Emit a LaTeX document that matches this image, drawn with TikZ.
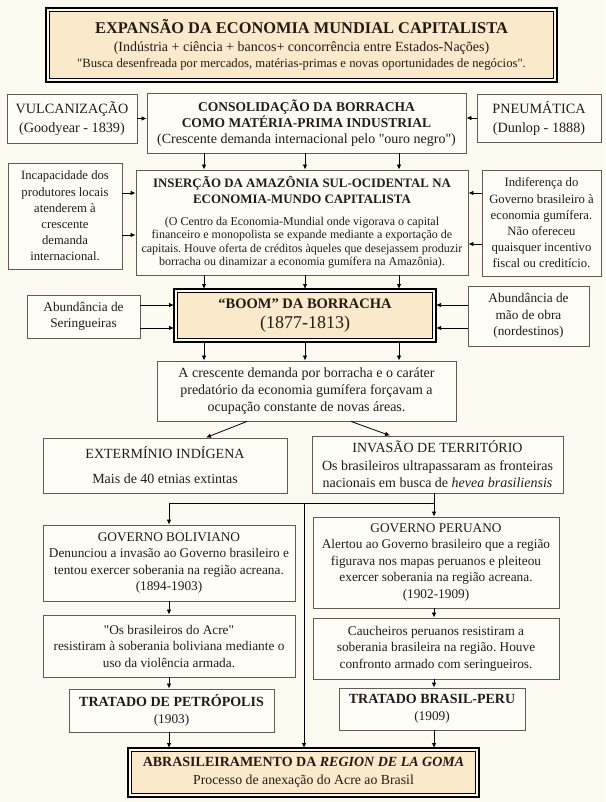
\documentclass[tikz,border=0pt]{standalone}
\usepackage{fontspec}
\setmainfont{Liberation Serif}[Ligatures=TeXOff]
\usetikzlibrary{arrows.meta}
\definecolor{paper}{RGB}{253,250,242}
\definecolor{boxfill}{RGB}{255,253,248}
\definecolor{wheat}{RGB}{250,233,203}
\definecolor{edge}{RGB}{100,90,80}
\definecolor{ink}{RGB}{35,28,22}
\frenchspacing

\begin{document}
\begin{tikzpicture}[
		x=1pt, y=-1pt,
		>={Latex[length=5pt,width=4.5pt]},
		box/.style={draw=edge, line width=0.9pt, fill=boxfill, text=ink, align=center, inner sep=0pt, font=\fontsize{13.3}{16.5}\selectfont},
		keybox/.style={box, draw=black, line width=0.8pt, fill=wheat, outer sep=3.5pt},
		frame/.style={draw=black, line width=2pt},
		dims/.style 2 args={minimum width=#1pt, minimum height=#2pt},
		narrow/.style={font=\fontsize{12.7}{16.2}\selectfont},
		wide/.style={font=\fontsize{14}{17}\selectfont},
		link/.style={->, line width=0.8pt, draw=black}
	]
		\useasboundingbox[fill=paper] (0,0) rectangle (605,802);
		\def\xl{169}
		\def\xm{304}
		\def\xr{434}

		\node[keybox, dims={504}{67}, font=\fontsize{14}{16}\selectfont] (expansao) at (301.5,45) {{\bfseries\fontsize{16.4}{18}\selectfont EXPANSÃO DA ECONOMIA MUNDIAL CAPITALISTA}\\[2.5pt]
			(Indústria + ciência + bancos+ concorrência entre Estados-Nações)\\
			{\fontsize{12.7}{14}\selectfont "Busca desenfreada por mercados, matérias-primas e novas oportunidades de negócios".}};

		\node[box, dims={130}{49}, font=\fontsize{14.2}{17}\selectfont] (vulc) at (72,118.5) {VULCANIZAÇÃO\\[2pt](Goodyear - 1839)};
		\node[box, dims={319}{60}, font=\fontsize{14}{16}\selectfont] (cons) at (306.5,123) {{\bfseries\fontsize{13.5}{15}\selectfont CONSOLIDAÇÃO DA BORRACHA}\\{\bfseries\fontsize{13.5}{15}\selectfont COMO MATÉRIA-PRIMA INDUSTRIAL}\\(Crescente demanda internacional pelo "ouro negro")};
		\node[box, dims={124}{48}, font=\fontsize{14.2}{17}\selectfont] (pneu) at (539,118) {PNEUMÁTICA\\[2pt](Dunlop - 1888)};

		\node[box, narrow, dims={114}{106}] (incap) at (65,216) {Incapacidade dos\\produtores locais\\atenderem à\\crescente\\demanda\\internacional.};
		\node[box, dims={332}{105}, font=\fontsize{12}{13.5}\selectfont] (inser) at (302,222.5) {{\bfseries\fontsize{12.9}{15}\selectfont INSERÇÃO DA AMAZÔNIA SUL-OCIDENTAL NA}\\[2.5pt]
			{\bfseries\fontsize{12.9}{15}\selectfont ECONOMIA-MUNDO CAPITALISTA}\\[8pt]
			(O Centro da Economia-Mundial onde vigorava o capital\\
			financeiro e monopolista se expande mediante a exportação de\\
			capitais. Houve oferta de créditos àqueles que desejassem produzir\\
			borracha ou dinamizar a economia gumífera na Amazônia).};
		\node[box, narrow, dims={119}{106}] (indif) at (541.5,223) {Indiferença do\\Governo brasileiro à\\economia gumífera.\\Não ofereceu\\quaisquer incentivo\\fiscal ou creditício.};

		\node[box, dims={113}{43}] (abser) at (83.5,316.5) {Abundância de\\Seringueiras};
		\node[keybox, dims={255}{46}, font=\fontsize{14.5}{20}\selectfont] (boom) at (305,315.5) {{\bfseries “BOOM” DA BORRACHA}\\{\fontsize{18}{20}\selectfont (1877-1813)}};
		\node[box, dims={121}{60}] (abmao) at (528.5,316) {Abundância de\\mão de obra\\(nordestinos)};

		\node[box, wide, dims={299}{60}] (cresc) at (306.5,391) {A crescente demanda por borracha e o caráter\\predatório da economia gumífera forçavam a\\ocupação constante de novas áreas.};

		\node[box, wide, dims={244}{55}] (exterm) at (165,465.5) {EXTERMÍNIO INDÍGENA\\[8pt]Mais de 40 etnias extintas};
		\node[box, wide, dims={251}{57}] (invasao) at (437.5,464.5) {INVASÃO DE TERRITÓRIO\\[1pt]Os brasileiros ultrapassaram as fronteiras\\nacionais em busca de \textit{hevea brasiliensis}};

		\node[box, dims={252}{76}] (bol) at (169,563) {GOVERNO BOLIVIANO\\Denunciou a invasão ao Governo brasileiro e\\tentou exercer soberania na região acreana.\\(1894-1903)};
		\node[box, dims={246}{91}] (peru) at (436,562.5) {GOVERNO PERUANO\\Alertou ao Governo brasileiro que a região\\figurava nos mapas peruanos e pleiteou\\exercer soberania na região acreana.\\(1902-1909)};

		\node[box, dims={252}{62}] (acre) at (169,646) {"Os brasileiros do Acre"\\resistiram à soberania boliviana mediante o\\uso da violência armada.};
		\node[box, dims={246}{61}] (cauch) at (436,648.5) {Caucheiros peruanos resistiram a\\soberania brasileira na região. Houve\\confronto armado com seringueiros.};

		\node[box, dims={205}{43}] (petr) at (171.5,710.5) {{\bfseries\fontsize{14}{16}\selectfont TRATADO DE PETRÓPOLIS}\\(1903)};
		\node[box, dims={186}{42}] (brpe) at (432,709) {{\bfseries\fontsize{14}{16}\selectfont TRATADO BRASIL-PERU}\\(1909)};

		\node[keybox, dims={344}{42}, font=\fontsize{13.8}{18}\selectfont] (abras) at (303.5,772.5) {{\bfseries\fontsize{14}{16}\selectfont ABRASILEIRAMENTO DA \textit{REGION DE LA GOMA}}\\Processo de anexação do Acre ao Brasil};

		\foreach \n in {expansao,boom,abras} {
			\draw[frame] (\n.north west) rectangle (\n.south east);
		}

		\draw[link] (vulc.east) -- (vulc.east -| cons.west);
		\draw[link] (pneu.west) -- (pneu.west -| cons.east);
		\foreach \x in {204,305,399} {
			\draw[link] (cons.south -| \x,0) -- (inser.north -| \x,0);
			\draw[link] (inser.south -| \x,0) -- (boom.north -| \x,0);
			\draw[link] (boom.south -| \x,0) -- (cresc.north -| \x,0);
		}
		\foreach \y in {193,235} {
			\draw[link] (incap.east |- 0,\y) -- (inser.west |- 0,\y);
		}
		\foreach \y in {193,244} {
			\draw[link] (indif.west |- 0,\y) -- (inser.east |- 0,\y);
		}
		\foreach \y in {305,328} {
			\draw[link] (abser.east |- 0,\y) -- (boom.west |- 0,\y);
			\draw[link] (abmao.west |- 0,\y) -- (boom.east |- 0,\y);
		}
		\draw[link] (cresc.south -| 247,0) -- (exterm.north -| 206,0);
		\draw[link] (cresc.south -| 351,0) -- (invasao.north -| 390,0);

		\coordinate (split) at (\xm,503);
		\draw[link] (invasao.south -| \xr,0) -- (peru.north -| \xr,0);
		\draw[link] (split -| \xr,0) -| (bol.north -| \xl,0);
		\draw[link] (split) -- (abras.north -| split);
		\foreach \a/\b in {bol/acre,acre/petr,petr/abras} {
			\draw[link] (\a.south -| \xl,0) -- (\b.north -| \xl,0);
		}
		\foreach \a/\b in {peru/cauch,cauch/brpe,brpe/abras} {
			\draw[link] (\a.south -| \xr,0) -- (\b.north -| \xr,0);
		}
	\end{tikzpicture}
\end{document}
